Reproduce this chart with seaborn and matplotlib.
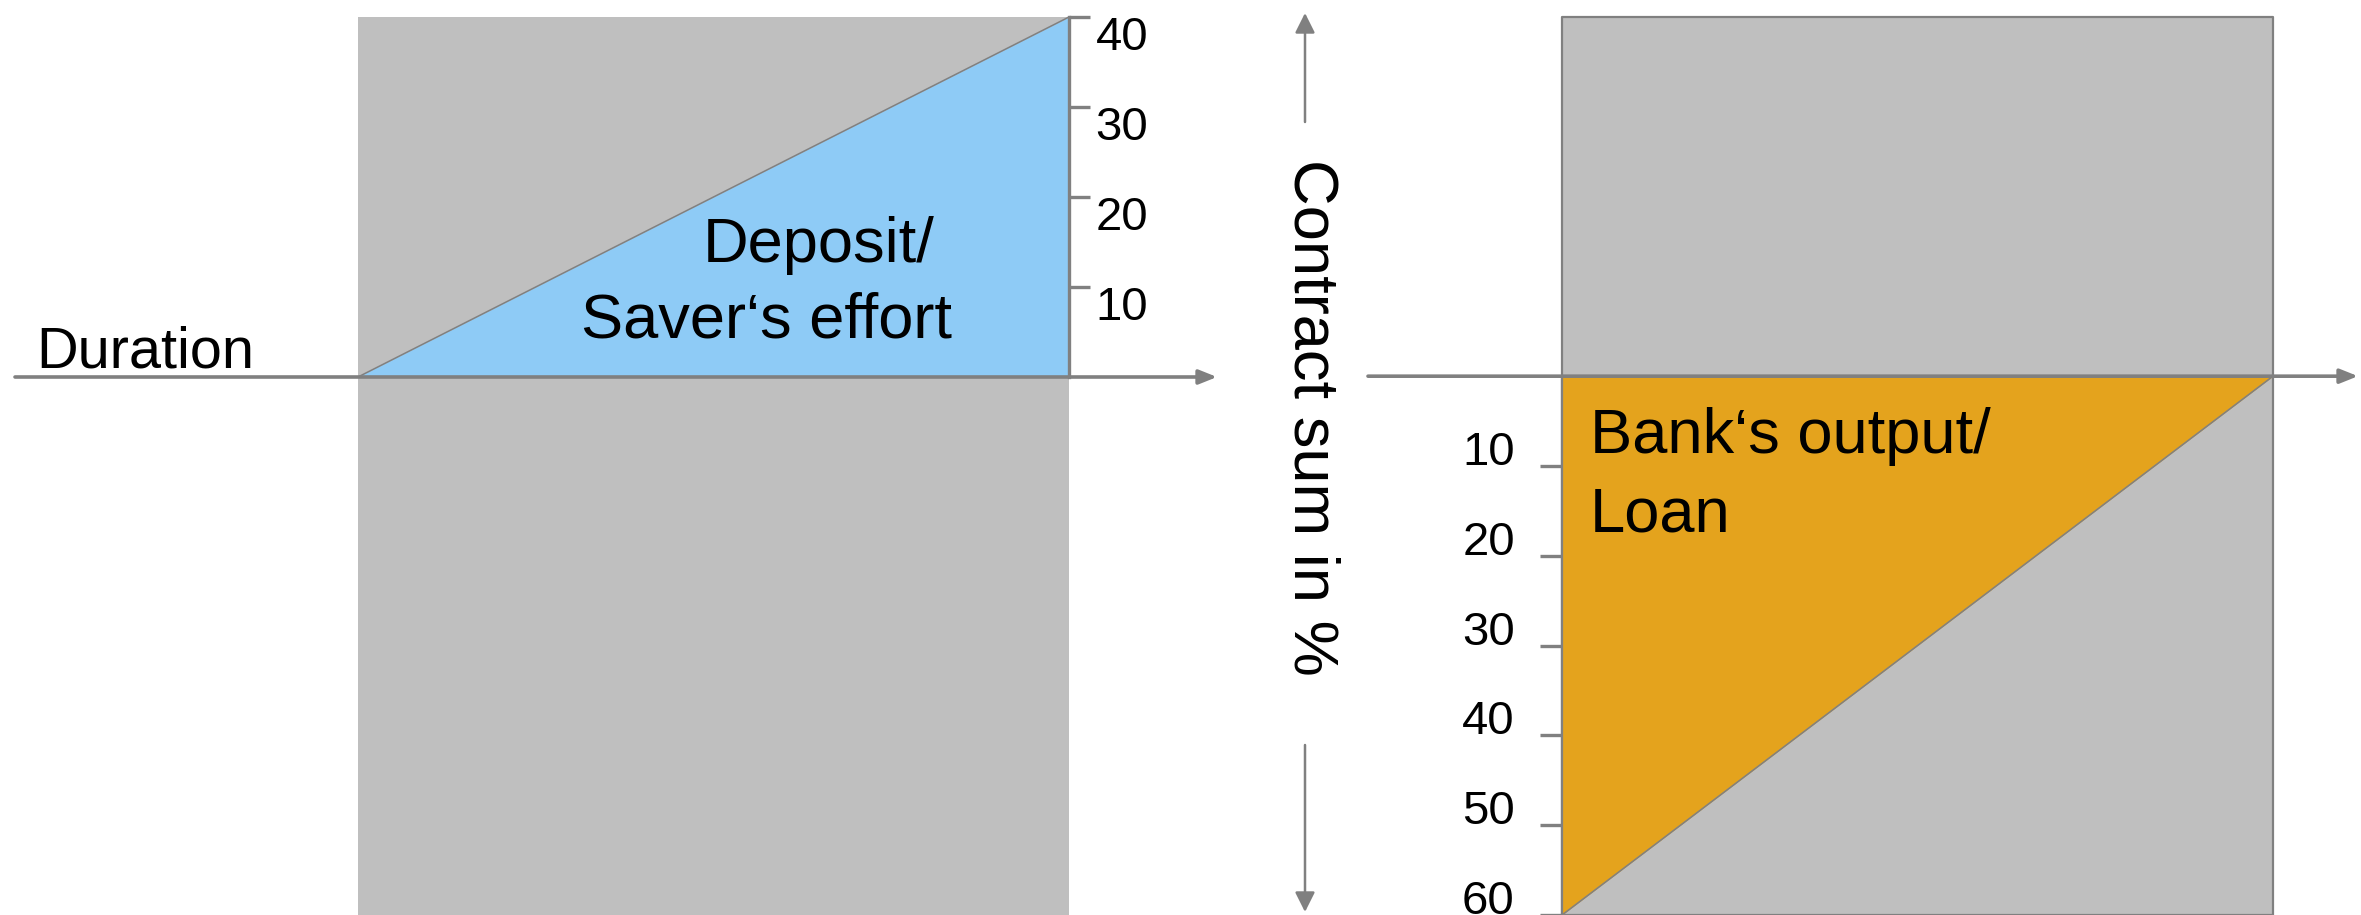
import matplotlib
matplotlib.use("Agg")
import matplotlib.pyplot as plt
import matplotlib.transforms as mtransforms
import seaborn as sns
import pandas as pd

# contract timeline: saver pays in, bank pays out
duration = [0, 10]
deposit_pct = [0, 40]
loan_pct = [60, 0]
deposit_ticks = [10, 20, 30, 40]
loan_ticks = [10, 20, 30, 40, 50, 60]

df = pd.DataFrame({"Duration": duration, "Deposit": deposit_pct, "Loan": loan_pct})

sns.set_style("white")
plt.rcParams["font.family"] = ["Liberation Sans", "DejaVu Sans"]
plt.rcParams["text.color"] = "black"
plt.rcParams["ytick.labelcolor"] = "black"

GRAY_BG = "#bfbfbf"
LINE = "#808080"
BLUE = "#8ecbf6"
ORANGE = "#e4a31d"

W, H = 2361, 915
fig = plt.figure(figsize=(W / 100, H / 100), dpi=100)
px_x = 71.1          # pixels per duration unit
px_y = 9.0           # pixels per percent
zero_y = 377         # pixel row of the time axis (from top)
ytop = zero_y / px_y
ybot = (H - zero_y) / px_y
split = 1251

ax1 = fig.add_axes([0, 0, split / W, 1])
ax2 = fig.add_axes([split / W, 0, (W - split) / W, 1])
for ax in (ax1, ax2):
    ax.set_facecolor("none")

ax1.set_xlim(-358 / px_x, (split - 358) / px_x)
ax1.set_ylim(-ybot, ytop)
ax2.set_xlim(-(1562 - split) / px_x, (W - 1562) / px_x)
ax2.set_ylim(ybot, -ytop)

# left panel: deposit
ax1.fill_between(df["Duration"], max(deposit_pct), -max(loan_pct) - 5,
                 color=GRAY_BG, lw=0, zorder=0)
ax1.fill_between(df["Duration"], 0, df["Deposit"], color=BLUE, lw=0, zorder=1)
sns.lineplot(data=df, x="Duration", y="Deposit", ax=ax1, color=LINE, lw=1.1, zorder=2)

# right panel: loan (percent grows downward)
ax2.fill_between(df["Duration"], -max(deposit_pct), max(loan_pct),
                 facecolor=GRAY_BG, edgecolor=LINE, lw=1.6, zorder=0)
ax2.fill_between(df["Duration"], 0, df["Loan"], color=ORANGE, lw=0, zorder=1)
sns.lineplot(data=df, x="Duration", y="Loan", ax=ax2, color=LINE, lw=1.1, zorder=2)
for ax in (ax1, ax2):
    ax.set_xticks([])
    ax.set_xlabel("")
    ax.set_ylabel("")

# spines / ticks
for s in ["top", "bottom", "left"]:
    ax1.spines[s].set_visible(False)
ax1.spines["right"].set_position(("data", duration[-1]))
ax1.spines["right"].set_bounds(0, max(deposit_pct))
ax1.spines["right"].set_color(LINE)
ax1.spines["right"].set_linewidth(2.4)
ax1.spines["right"].set_zorder(3)
ax1.yaxis.tick_right()
ax1.set_yticks(deposit_ticks)
ax1.tick_params(axis="y", direction="out", length=15, width=2.4, color=LINE,
                labelsize=34, pad=4)
down = mtransforms.ScaledTranslation(0, -16 / 100, fig.dpi_scale_trans)
for lab in ax1.get_yticklabels():
    lab.set_transform(lab.get_transform() + down)

for s in ["top", "bottom", "right"]:
    ax2.spines[s].set_visible(False)
ax2.spines["left"].set_position(("data", duration[0]))
ax2.spines["left"].set_bounds(0, max(loan_pct))
ax2.spines["left"].set_color(LINE)
ax2.spines["left"].set_linewidth(1.6)
ax2.yaxis.tick_left()
ax2.set_yticks(loan_ticks)
ax2.tick_params(axis="y", direction="out", length=16, width=2.4, color=LINE,
                labelsize=34, pad=18)
up = mtransforms.ScaledTranslation(0, 18 / 100, fig.dpi_scale_trans)
for lab in ax2.get_yticklabels():
    lab.set_transform(lab.get_transform() + up)

# time axes with arrows
arrow_h = dict(arrowstyle="-|>,head_length=0.4,head_width=0.16", color=LINE,
               lw=2.6, mutation_scale=27, shrinkA=0, shrinkB=0)
ax1.annotate("", xy=(1217, 0), xytext=(15, 0),
             xycoords=("figure pixels", "data"), textcoords=("figure pixels", "data"),
             arrowprops=arrow_h, zorder=4)
ax2.annotate("", xy=(2358, 0), xytext=(1368, 0),
             xycoords=("figure pixels", "data"), textcoords=("figure pixels", "data"),
             arrowprops=arrow_h, zorder=4)

# vertical arrows around the shared y title
arrow_v = dict(arrowstyle="-|>,head_length=0.4,head_width=0.2", color=LINE,
               lw=1.8, mutation_scale=30, shrinkA=0, shrinkB=0)
ax2.annotate("", xy=(1305, H - 13), xytext=(1305, H - 122),
             xycoords="figure pixels", textcoords="figure pixels", arrowprops=arrow_v)
ax2.annotate("", xy=(1305, H - 912), xytext=(1305, H - 745),
             xycoords="figure pixels", textcoords="figure pixels", arrowprops=arrow_v)

fig.text(1311 / W, 1 - 417 / H, "Contract sum in %", rotation=-90,
         ha="center", va="center", fontsize=45.5)

# labels
fig.text(36 / W, 1 - 368 / H, "Duration", ha="left", va="baseline", fontsize=41.5)
fig.text(703 / W, 1 - 262 / H, "Deposit/", ha="left", va="baseline", fontsize=45.5)
fig.text(581 / W, 1 - 338 / H, "Saver\u2018s effort", ha="left", va="baseline", fontsize=45.5)
fig.text(1590 / W, 1 - 453 / H, "Bank\u2018s output/", ha="left", va="baseline", fontsize=45.5)
fig.text(1590 / W, 1 - 532 / H, "Loan", ha="left", va="baseline", fontsize=45.5)

plt.savefig("out.png", dpi=100)
